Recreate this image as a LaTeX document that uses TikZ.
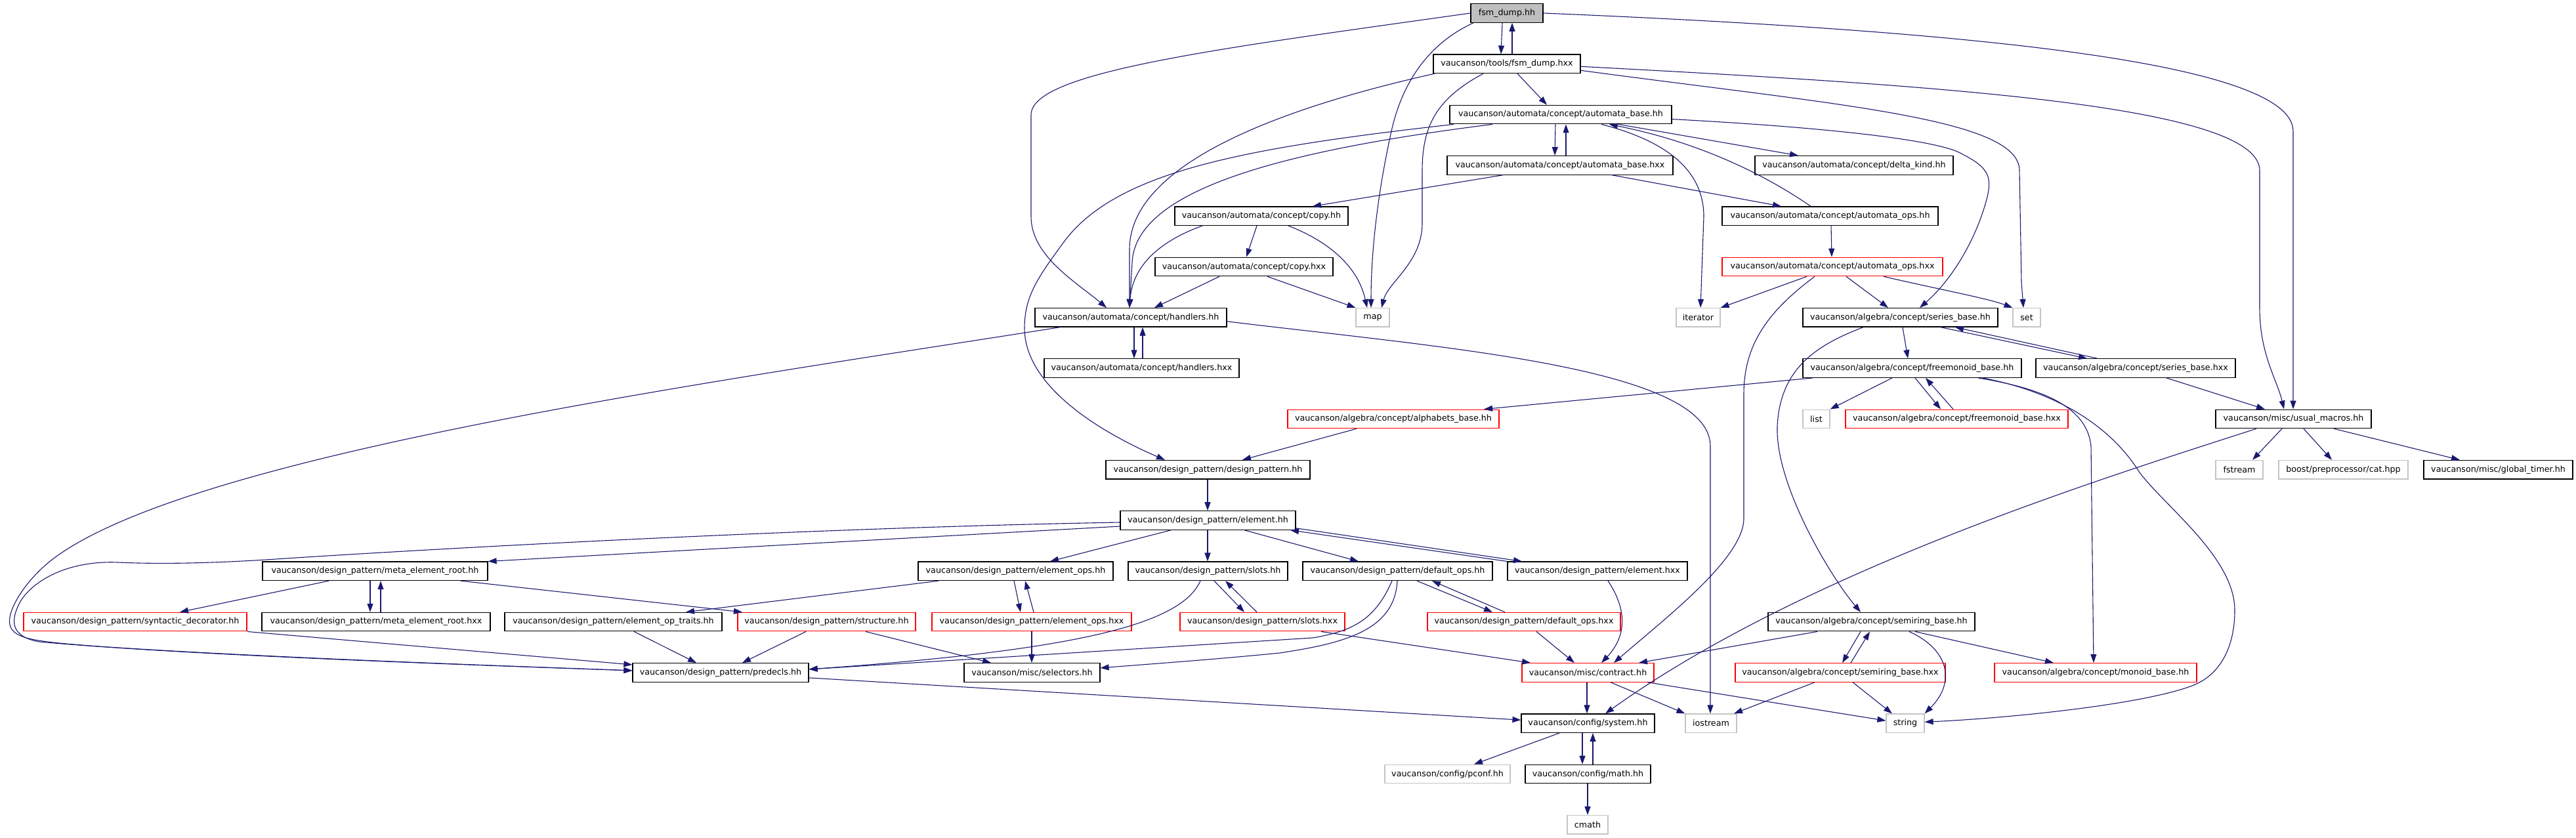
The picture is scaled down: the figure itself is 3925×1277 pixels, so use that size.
\documentclass[tikz,border=0pt]{standalone}
\usepackage{fontspec}
\setmainfont{DejaVu Sans}
\usetikzlibrary{arrows.meta}
\definecolor{edgeblue}{HTML}{191970}
\definecolor{redbox}{HTML}{FF0000}
\definecolor{graybox}{HTML}{C4C4C4}
\definecolor{rootfill}{HTML}{BFBFBF}
\begin{document}
\begin{tikzpicture}[x=1pt,y=-1pt,
  box/.style={draw=black, line width=1.2pt, fill=white, inner sep=0pt, minimum height=28.5pt, font=\fontsize{12.7}{15}\selectfont, text=black},
  redb/.style={box, draw=redbox},
  grayb/.style={box, draw=graybox},
  rootb/.style={box, fill=rootfill},
  dep/.style={draw=edgeblue, line width=1.1pt, -{Triangle[length=13pt,width=9pt]}}]
\useasboundingbox (0,0) rectangle (3925,1277);
% row 0
\node[rootb, minimum width=110pt] (F0) at (2296,20) {fsm\_dump.hh};
% row 1
\node[box, minimum width=224pt] (FX) at (2296,97.3) {vaucanson/tools/fsm\_dump.hxx};
% row 2
\node[box, minimum width=338pt] (AB) at (2378,174.6) {vaucanson/automata/concept/automata\_base.hh};
% row 3
\node[box, minimum width=344pt] (ABX) at (2377,251.9) {vaucanson/automata/concept/automata\_base.hxx};
\node[box, minimum width=302pt] (DK) at (2825,251.9) {vaucanson/automata/concept/delta\_kind.hh};
% row 4
\node[box, minimum width=264pt] (CP) at (1922,329.2) {vaucanson/automata/concept/copy.hh};
\node[box, minimum width=329pt] (AO) at (2788.5,329.2) {vaucanson/automata/concept/automata\_ops.hh};
% row 5
\node[box, minimum width=271pt] (CPX) at (1895.5,406.5) {vaucanson/automata/concept/copy.hxx};
\node[redb, minimum width=336pt] (AOX) at (2792,406.5) {vaucanson/automata/concept/automata\_ops.hxx};
% row 6
\node[box, minimum width=292pt] (HH) at (1723,483.8) {vaucanson/automata/concept/handlers.hh};
\node[grayb, minimum width=51pt] (MAP) at (2091.5,483.8) {map};
\node[grayb, minimum width=67pt] (IT) at (2587.5,483.8) {iterator};
\node[box, minimum width=297pt] (SB) at (2895.5,483.8) {vaucanson/algebra/concept/series\_base.hh};
\node[grayb, minimum width=42pt] (SET) at (3088,483.8) {set};
% row 7
\node[box, minimum width=297pt] (HX) at (1739.5,561.1) {vaucanson/automata/concept/handlers.hxx};
\node[box, minimum width=333pt] (FM) at (2913.5,561.1) {vaucanson/algebra/concept/freemonoid\_base.hh};
\node[box, minimum width=304pt] (SBX) at (3254,561.1) {vaucanson/algebra/concept/series\_base.hxx};
% row 8
\node[redb, minimum width=322pt] (AL) at (2123,638.4) {vaucanson/algebra/concept/alphabets\_base.hh};
\node[grayb, minimum width=41pt] (LIST) at (2767.5,638.4) {list};
\node[redb, minimum width=339pt] (FMX) at (2981.5,638.4) {vaucanson/algebra/concept/freemonoid\_base.hxx};
\node[box, minimum width=237pt] (UM) at (3494.5,638.4) {vaucanson/misc/usual\_macros.hh};
% row 9
\node[box, minimum width=311pt] (DP) at (1840.5,715.7) {vaucanson/design\_pattern/design\_pattern.hh};
\node[grayb, minimum width=72pt] (FS) at (3412,715.7) {fstream};
\node[grayb, minimum width=197pt] (CAT) at (3570.5,715.7) {boost/preprocessor/cat.hpp};
\node[box, minimum width=227pt] (GT) at (3806.5,715.7) {vaucanson/misc/global\_timer.hh};
% row 10
\node[box, minimum width=267pt] (EL) at (1840.5,793) {vaucanson/design\_pattern/element.hh};
% row 11
\node[box, minimum width=343pt] (MER) at (571.5,870.3) {vaucanson/design\_pattern/meta\_element\_root.hh};
\node[box, minimum width=297pt] (EO) at (1547.5,870.3) {vaucanson/design\_pattern/element\_ops.hh};
\node[box, minimum width=243pt] (SL) at (1840.5,870.3) {vaucanson/design\_pattern/slots.hh};
\node[box, minimum width=289pt] (DO) at (2129.5,870.3) {vaucanson/design\_pattern/default\_ops.hh};
\node[box, minimum width=274pt] (ELX) at (2434,870.3) {vaucanson/design\_pattern/element.hxx};
% row 12
\node[redb, minimum width=340pt] (SD) at (206,947.6) {vaucanson/design\_pattern/syntactic\_decorator.hh};
\node[box, minimum width=348pt] (MERX) at (573,947.6) {vaucanson/design\_pattern/meta\_element\_root.hxx};
\node[box, minimum width=331pt] (EOT) at (934.5,947.6) {vaucanson/design\_pattern/element\_op\_traits.hh};
\node[redb, minimum width=271pt] (ST) at (1259.5,947.6) {vaucanson/design\_pattern/structure.hh};
\node[redb, minimum width=304pt] (EOX) at (1572,947.6) {vaucanson/design\_pattern/element\_ops.hxx};
\node[redb, minimum width=251pt] (SLX) at (1923.5,947.6) {vaucanson/design\_pattern/slots.hxx};
\node[redb, minimum width=294pt] (DOX) at (2322,947.6) {vaucanson/design\_pattern/default\_ops.hxx};
\node[box, minimum width=315pt] (SR) at (2851.5,947.6) {vaucanson/algebra/concept/semiring\_base.hh};
% row 13
\node[box, minimum width=268pt] (PD) at (1098,1024.9) {vaucanson/design\_pattern/predecls.hh};
\node[box, minimum width=207pt] (SEL) at (1572.5,1024.9) {vaucanson/misc/selectors.hh};
\node[redb, minimum width=201pt] (CT) at (2419.5,1024.9) {vaucanson/misc/contract.hh};
\node[redb, minimum width=320pt] (SRX) at (2804,1024.9) {vaucanson/algebra/concept/semiring\_base.hxx};
\node[redb, minimum width=308pt] (MB) at (3193,1024.9) {vaucanson/algebra/concept/monoid\_base.hh};
% row 14
\node[box, minimum width=203pt] (SYS) at (2419.5,1102.2) {vaucanson/config/system.hh};
\node[grayb, minimum width=78pt] (IOS) at (2607,1102.2) {iostream};
\node[grayb, minimum width=58pt] (STR) at (2903,1102.2) {string};
% row 15
\node[grayb, minimum width=191pt] (PC) at (2205.5,1179.5) {vaucanson/config/pconf.hh};
\node[box, minimum width=191pt] (MATH) at (2419.5,1179.5) {vaucanson/config/math.hh};
% row 16
\node[grayb, minimum width=62pt] (CM) at (2419,1256.8) {cmath};

% ---------------- edges ----------------
\draw[dep] (2289,0 |- F0.south) -- (2287,0 |- FX.north);
\draw[dep] (2304,0 |- FX.north) -- (2304,0 |- F0.south);
\draw[dep] (F0.west) .. controls (1850,75) and (1571,110) .. (1571,175) -- (1571,330) .. controls (1571,390) and (1640,430) .. (1686,0 |- HH.north);
\draw[dep] (2245,0 |- F0.south) .. controls (2190,60) and (2140,110) .. (2120,200) .. controls (2100,290) and (2089,380) .. (2089,0 |- MAP.north);
\draw[dep] (F0.east) .. controls (2950,45) and (3494,90) .. (3494,200) -- (3494,0 |- UM.north);
\draw[dep] ([yshift=-4pt]FX.east) .. controls (2950,130) and (3443,160) .. (3443,260) -- (3443,470) .. controls (3443,540) and (3470,580) .. (3480,0 |- UM.north);
\draw[dep] ([yshift=-10pt]FX.east) .. controls (2800,160) and (3077,180) .. (3077,260) -- (3080,430) -- (3083,0 |- SET.north);
\draw[dep] (2312,0 |- FX.south) -- (2357,0 |- AB.north);
\draw[dep] (2186,0 |- FX.south) .. controls (1950,165) and (1721,250) .. (1721,380) -- (1721,0 |- HH.north);
\draw[dep] (2260,0 |- FX.south) .. controls (2190,150) and (2167,190) .. (2167,260) -- (2167,340) .. controls (2167,400) and (2115,430) .. (2105,0 |- MAP.north);
\draw[dep] (2370,0 |- AB.south) -- (2369,0 |- ABX.north);
\draw[dep] (2386,0 |- ABX.north) -- (2386,0 |- AB.south);
\draw[dep] (2466,0 |- AB.south) -- (2740,0 |- DK.north);
\draw[dep] ([yshift=-7pt]AB.east) .. controls (2800,195) and (2960,215) .. (2990,235) .. controls (3030,255) and (3035,270) .. (3028,300) .. controls (3010,370) and (2970,430) .. (2925,0 |- SB.north);
\draw[dep] (2440,0 |- AB.south) .. controls (2540,215) and (2596,260) .. (2596,330) -- (2591,0 |- IT.north);
\draw[dep] (2215,0 |- AB.south) .. controls (1900,225) and (1700,260) .. (1620,370) .. controls (1583,421) and (1561,450) .. (1561,500) .. controls (1561,590) and (1680,660) .. (1775,0 |- DP.north);
\draw[dep] (2274,0 |- AB.south) .. controls (1950,230) and (1730,290) .. (1725,400) -- (1721,0 |- HH.north);
\draw[dep] (2290,0 |- ABX.south) -- (2000,0 |- CP.north);
\draw[dep] (2456,0 |- ABX.south) -- (2714,0 |- AO.north);
\draw[dep] (2759,0 |- AO.north) .. controls (2680,260) and (2580,215) .. (2452,0 |- AB.south);
\draw[dep] (2790,0 |- AO.south) -- (2791,0 |- AOX.north);
\draw[dep] (1915,0 |- CP.south) -- (1899,0 |- CPX.north);
\draw[dep] (1832,0 |- CP.south) .. controls (1760,370) and (1725,410) .. (1721,0 |- HH.north);
\draw[dep] (1963,0 |- CP.south) .. controls (2030,370) and (2070,410) .. (2083,0 |- MAP.north);
\draw[dep] (1858,0 |- CPX.south) -- (1759,0 |- HH.north);
\draw[dep] (1931,0 |- CPX.south) -- (MAP.north west);
\draw[dep] (2753,0 |- AOX.south) -- (IT.north east);
\draw[dep] (2813,0 |- AOX.south) -- (2877,0 |- SB.north);
\draw[dep] (2870,0 |- AOX.south) .. controls (2950,440) and (3030,455) .. (SET.north west);
\draw[dep] (2765,0 |- AOX.south) .. controls (2700,470) and (2657,520) .. (2657,600) -- (2657,790) .. controls (2657,850) and (2540,940) .. (2459,0 |- CT.north);
\draw[dep] (1728,0 |- HH.south) -- (1728,0 |- HX.north);
\draw[dep] (1741,0 |- HX.north) -- (1741,0 |- HH.south);
\draw[dep] (1615,0 |- HH.south) .. controls (1100,580) and (300,690) .. (83,850) .. controls (40,882) and (10,930) .. (15,952) .. controls (20,975) and (60,978) .. (150,985) .. controls (400,1002) and (800,1016) .. ([yshift=3pt]PD.west);
\draw[dep] ([yshift=-6pt]HH.east) .. controls (2200,530) and (2606,560) .. (2606,680) -- (2606,0 |- IOS.north);
\draw[dep] (2899,0 |- SB.south) -- (2907,0 |- FM.north);
\draw[dep] (2957,0 |- SB.south) -- (3180,0 |- SBX.north);
\draw[dep] (3196,0 |- SBX.north) -- (2979,0 |- SB.south);
\draw[dep] (2839,0 |- SB.south) .. controls (2770,525) and (2712,560) .. (2708,650) .. controls (2705,740) and (2790,880) .. (2835,0 |- SR.north);
\draw[dep] (3301,0 |- SBX.south) -- (3451,0 |- UM.north);
\draw[dep] (2883,0 |- FM.south) -- (LIST.north east);
\draw[dep] (2918,0 |- FM.south) -- (2957,0 |- FMX.north);
\draw[dep] (2976,0 |- FMX.north) -- (2934,0 |- FM.south);
\draw[dep] (2762,0 |- FM.south) -- (2261,0 |- AL.north);
\draw[dep] (3014,0 |- FM.south) .. controls (3100,590) and (3180,615) .. (3186,680) -- (3190,0 |- MB.north);
\draw[dep] (3021,0 |- FM.south) .. controls (3120,595) and (3210,640) .. (3260,720) .. controls (3300,773) and (3405,850) .. (3405,930) .. controls (3405,990) and (3380,1030) .. (3340,1045) .. controls (3260,1075) and (3050,1095) .. ([yshift=2pt]STR.east);
\draw[dep] (2067,0 |- AL.south) -- (1893,0 |- DP.north);
\draw[dep] (3477,0 |- UM.south) -- (3432,0 |- FS.north);
\draw[dep] (3510,0 |- UM.south) -- (3553,0 |- CAT.north);
\draw[dep] (3556,0 |- UM.south) -- (3748,0 |- GT.north);
\draw[dep] (3438,0 |- UM.south) .. controls (3200,730) and (2750,870) .. (2446,0 |- SYS.north);
\draw[dep] (1840,0 |- DP.south) -- (1840,0 |- EL.north);
\draw[dep] ([yshift=-3pt]EL.west) .. controls (1200,805) and (600,840) .. (420,852) .. controls (330,858) and (250,860) .. (180,857) .. controls (110,854) and (55,880) .. (32,915) .. controls (15,945) and (15,970) .. (60,978) .. controls (300,1000) and (800,1016) .. ([yshift=3pt]PD.west);
\draw[dep] ([yshift=-9pt]EL.west) -- (MER.north east);
\draw[dep] (1784,0 |- EL.south) -- (1600,0 |- EO.north);
\draw[dep] (1840,0 |- EL.south) -- (1840,0 |- SL.north);
\draw[dep] (1896,0 |- EL.south) -- (2070,0 |- DO.north);
\draw[dep] ([yshift=3pt]EL.south east) -- (2319,0 |- ELX.north);
\draw[dep] (ELX.north west) -- (1966,0 |- EL.south);
\draw[dep] (501,0 |- MER.south) -- (274,0 |- SD.north);
\draw[dep] (564,0 |- MER.south) -- (564,0 |- MERX.north);
\draw[dep] (580,0 |- MERX.north) -- (580,0 |- MER.south);
\draw[dep] (702,0 |- MER.south) -- (1131,0 |- ST.north);
\draw[dep] (1430,0 |- EO.south) -- (1045,0 |- EOT.north);
\draw[dep] (1545,0 |- EO.south) -- (1555,0 |- EOX.north);
\draw[dep] (1575,0 |- EOX.north) -- (1562,0 |- EO.south);
\draw[dep] (1850,0 |- SL.south) -- (1896,0 |- SLX.north);
\draw[dep] (1915,0 |- SLX.north) -- (1867,0 |- SL.south);
\draw[dep] (1829,0 |- SL.south) .. controls (1800,950) and (1650,990) .. ([yshift=5pt]PD.east);
\draw[dep] (2159,0 |- DO.south) -- (2274,0 |- DOX.north);
\draw[dep] (2293,0 |- DOX.north) -- (2182,0 |- DO.south);
\draw[dep] (2121,0 |- DO.south) .. controls (2095,945) and (2060,962) .. (2000,972) -- ([yshift=5pt]PD.east);
\draw[dep] (2129,0 |- DO.south) .. controls (2125,960) and (2050,980) .. (1950,995) .. controls (1850,1005) and (1750,1012) .. ([yshift=7pt]SEL.east);
\draw[dep] (2450,0 |- ELX.south) .. controls (2480,930) and (2478,970) .. (2440,0 |- CT.north);
\draw[dep] (SD.south east) -- ([yshift=12pt]PD.west);
\draw[dep] (966,0 |- EOT.south) -- (1061,0 |- PD.north);
\draw[dep] (1228,0 |- ST.south) -- (1131,0 |- PD.north);
\draw[dep] (1319,0 |- ST.south) -- (1510,0 |- SEL.north);
\draw[dep] (1572,0 |- EOX.south) -- (1572,0 |- SEL.north);
\draw[dep] (2013,0 |- SLX.south) -- (2332,0 |- CT.north);
\draw[dep] (2341,0 |- DOX.south) -- (2399,0 |- CT.north);
\draw[dep] (2769,0 |- SR.south) -- (2497,0 |- CT.north);
\draw[dep] (2835,0 |- SR.south) -- (2807,0 |- SRX.north);
\draw[dep] (2820,0 |- SRX.north) -- (2849,0 |- SR.south);
\draw[dep] (2909,0 |- SR.south) .. controls (2970,990) and (2980,1040) .. (STR.north east);
\draw[dep] (2918,0 |- SR.south) -- (3129,0 |- MB.north);
\draw[dep] (2765,0 |- SRX.south) -- (2642,0 |- IOS.north);
\draw[dep] (2823,0 |- SRX.south) -- (2883,0 |- STR.north);
\draw[dep] ([yshift=-8pt]PD.east) -- ([yshift=5pt]SYS.west);
\draw[dep] (2418,0 |- CT.south) -- (2418,0 |- SYS.north);
\draw[dep] (2454,0 |- CT.south) -- (IOS.north west);
\draw[dep] (2510,0 |- CT.south) -- ([yshift=4pt]STR.west);
\draw[dep] (2376,0 |- SYS.south) -- (2246,0 |- PC.north);
\draw[dep] (2411,0 |- SYS.south) -- (2411,0 |- MATH.north);
\draw[dep] (2427,0 |- MATH.north) -- (2427,0 |- SYS.south);
\draw[dep] (2419,0 |- MATH.south) -- (2419,0 |- CM.north);
\end{tikzpicture}
\end{document}
